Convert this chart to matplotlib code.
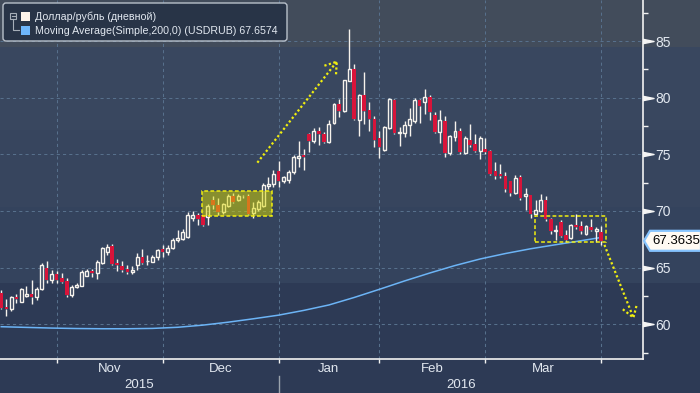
import numpy as np
import pandas as pd
import matplotlib
matplotlib.use("Agg")
import matplotlib.pyplot as plt
import matplotlib.transforms as mtransforms
from matplotlib.patches import Rectangle, FancyBboxPatch, Polygon

plt.rcParams['font.family'] = ['Liberation Sans', 'DejaVu Sans']

# ---- data (USD/RUB daily) ----
dates = pd.bdate_range("2015-10-16", "2016-04-01")
dates = dates[dates != pd.Timestamp("2016-01-01")]

opens = [62.8, 61.5, 61.3, 62.4, 62.0, 62.5, 62.7, 62.4, 63.1, 65.0,
         63.9, 64.4, 64.1, 63.8, 62.6, 63.3, 63.4, 64.3, 64.7, 64.5,
         65.4, 66.4, 66.9, 65.4, 65.1, 64.9, 64.6, 65.2, 65.9, 65.55,
         65.5, 65.9, 66.6, 66.4, 66.7, 67.4, 67.5, 67.7, 69.4, 69.6,
         69.6, 69.45, 71.0, 70.5, 69.9, 70.4, 71.3, 71.0, 71.36, 71.35,
         69.8, 70.2, 70.4, 72.2, 72.4, 73.5, 72.6, 72.7, 73.4, 74.7,
         74.9, 76.8, 76.2, 77.1, 76.8, 76.1, 77.8, 79.4, 78.8, 81.5,
         82.5, 78.0, 80.2, 78.9, 78.1, 76.4, 75.4, 77.3, 79.8, 76.9,
         76.9, 77.6, 77.9, 79.8, 79.6, 80.1, 78.5, 77.0, 77.9, 75.1,
         76.5, 77.1, 75.1, 76.3, 75.9, 75.3, 75.5, 75.3, 73.5, 73.3,
         73.1, 72.6, 71.6, 73.0, 71.3, 71.4, 69.7, 70.0, 71.0, 69.3,
         68.2, 69.0, 67.9, 67.6, 68.8, 68.7, 68.0, 68.6, 68.2, 68.1]
highs = [63.0, 62.2, 62.5, 62.7, 63.2, 63.4, 63.9, 63.3, 65.4, 65.6,
         64.8, 64.7, 64.5, 64.1, 63.5, 63.6, 64.8, 64.9, 64.9, 65.7,
         66.8, 67.1, 67.1, 65.8, 65.6, 65.2, 65.1, 66.3, 66.6, 66.1,
         66.1, 66.6, 67.0, 67.0, 67.6, 68.3, 68.4, 69.9, 70.0, 69.8,
         69.65, 70.6, 71.3, 71.1, 70.7, 71.5, 71.6, 71.5, 71.45, 71.5,
         70.8, 71.0, 72.5, 73.0, 73.6, 74.4, 73.1, 73.6, 74.9, 76.2,
         75.5, 76.85, 77.3, 77.4, 77.0, 78.0, 79.5, 79.9, 81.6, 86.1,
         83.0, 80.3, 82.3, 79.6, 78.4, 77.1, 77.5, 79.95, 79.9, 77.4,
         77.9, 79.1, 80.0, 79.9, 80.8, 80.2, 78.7, 78.9, 78.4, 76.7,
         77.9, 77.3, 76.6, 77.7, 76.8, 76.6, 76.4, 75.4, 74.3, 74.1,
         73.4, 72.65, 73.2, 73.2, 72.0, 71.45, 71.0, 71.5, 71.3, 69.4,
         68.8, 69.2, 68.3, 68.85, 69.7, 69.1, 68.8, 69.3, 68.6, 68.7]
lows = [61.3, 60.7, 61.2, 61.9, 61.95, 62.4, 61.8, 62.1, 63.05, 63.6,
        63.6, 63.6, 63.6, 62.4, 62.4, 63.2, 63.35, 64.25, 64.2, 64.0,
        65.35, 66.1, 65.2, 64.7, 64.6, 64.4, 64.4, 64.8, 65.3, 65.2,
        65.45, 65.7, 65.9, 66.1, 66.65, 67.3, 67.4, 67.65, 69.1, 68.8,
        68.7, 68.8, 70.2, 69.6, 69.7, 70.35, 70.7, 70.9, 71.1, 69.65,
        69.4, 70.0, 70.35, 71.9, 72.1, 72.1, 72.5, 72.5, 73.3, 73.9,
        73.6, 75.2, 76.0, 75.8, 76.0, 76.0, 77.7, 78.3, 78.7, 81.45,
        78.0, 76.6, 77.7, 77.1, 75.6, 74.7, 75.3, 77.2, 76.8, 75.7,
        76.5, 76.6, 77.8, 77.8, 78.6, 78.0, 76.9, 76.0, 74.8, 74.9,
        76.2, 75.0, 75.0, 75.6, 75.2, 74.6, 75.0, 73.2, 72.8, 72.9,
        71.7, 71.3, 71.5, 71.0, 70.1, 69.4, 69.6, 69.9, 69.1, 68.0,
        67.4, 67.7, 67.3, 67.5, 68.4, 68.0, 67.9, 68.2, 67.3, 67.0]
closes = [61.4, 61.3, 62.4, 62.2, 63.1, 62.7, 62.4, 63.1, 65.2, 63.9,
          64.4, 63.9, 63.7, 62.6, 63.3, 63.5, 64.6, 64.7, 64.5, 65.5,
          66.7, 66.8, 65.3, 65.2, 64.8, 64.6, 64.8, 65.9, 65.4, 65.62,
          65.9, 66.55, 66.4, 66.7, 67.4, 67.6, 68.1, 69.6, 69.6, 69.3,
          68.8, 70.4, 70.5, 69.9, 70.6, 71.3, 70.8, 71.3, 71.3, 69.7,
          70.3, 70.8, 72.3, 72.4, 73.3, 72.6, 73.0, 73.4, 74.8, 74.85,
          74.8, 76.2, 77.1, 76.8, 76.1, 77.7, 79.4, 78.8, 81.6, 82.5,
          78.1, 80.2, 78.8, 78.1, 76.3, 75.6, 77.4, 79.9, 76.9, 77.0,
          77.6, 78.1, 79.8, 79.3, 80.1, 78.7, 77.0, 78.0, 75.1, 76.6,
          77.1, 75.2, 76.4, 75.8, 75.3, 76.4, 75.2, 73.3, 73.1, 73.1,
          71.9, 71.6, 72.9, 71.1, 71.5, 69.7, 70.1, 71.0, 69.3, 68.2,
          68.3, 67.8, 67.4, 68.8, 68.6, 68.2, 68.7, 68.3, 68.4, 67.3635]

# 200-day simple moving average, read every 5th session
ma_idx = [0, 5, 10, 15, 20, 25, 30, 35, 40, 45, 50, 55, 60, 65, 70,
          75, 80, 85, 90, 95, 100, 105, 110, 115, 119]
ma_val = [59.78, 59.72, 59.66, 59.62, 59.60, 59.60, 59.63, 59.73, 59.92,
          60.18, 60.48, 60.80, 61.22, 61.70, 62.36, 63.08, 63.82, 64.52,
          65.18, 65.76, 66.24, 66.66, 67.02, 67.37, 67.66]

# annotations: (session index, price)
box1 = [(39.9, 69.53), (53.8, 71.73)]
box2 = [(105.8, 67.23), (119.9, 69.58)]
arrow1 = [(50.8, 74.26), (66.55, 83.17)]
arrow1_head = [(64.1, 82.82), (66.55, 83.17), (66.4, 82.0)]
arrow2 = [(119.65, 67.0), (125.4, 60.58)]
arrow2_head = [(123.3, 61.32), (125.4, 60.58), (126.1, 61.79)]

legend_labels = ["Доллар/рубль (дневной)",
                 "Moving Average(Simple,200,0) (USDRUB) 67.6574"]

# ---- style ----
UP = '#f6f2ec'
DOWN = '#d8143a'
GRID = '#57708c'
YEL = '#f0ee10'
TXT = '#e2e8f0'

W, H = 700, 393
fig = plt.figure(figsize=(7, 3.93), dpi=100)
fig.patch.set_facecolor('#2d3a55')

# background bands
bg = fig.add_axes([0, 0, 1, 1], zorder=0)
bg.set_xlim(0, W); bg.set_ylim(H, 0); bg.axis('off')
for y0, y1, c in [(0, 47, '#424c5b'), (47, 130, '#39475f'),
                  (130, 207, '#37455e'), (207, 283, '#34435d'),
                  (283, H, '#2d3a55')]:
    bg.add_patch(Rectangle((0, y0), W, y1 - y0, fc=c, ec='none'))

ax = fig.add_axes([0, (H - 359) / H, 643 / W, 359 / H], zorder=1)
ax.set_facecolor('none')
ax.set_xlim(-0.25, 127.3)
ax.set_ylim(56.93, 88.62)

x = np.arange(len(dates))
o = np.array(opens); h = np.array(highs); l = np.array(lows); c = np.array(closes)
up = c >= o
body_lo = np.minimum(o, c)
body_hi = np.maximum(o, c)
body_h = np.maximum(body_hi - body_lo, 0.06)

# grid
month_pos = [i for i in range(1, len(dates)) if dates[i].month != dates[i - 1].month]
for p in month_pos:
    ax.axvline(p, color=GRID, lw=0.75, ls=(0, (3, 3)), zorder=1)
for v in range(60, 90, 5):
    ax.axhline(v, color=GRID, lw=0.75, ls=(0, (3, 3)), zorder=1)

# moving average
ax.plot(ma_idx, ma_val, color='#6cb4f6', lw=1.1, zorder=2)

# wicks
ax.vlines(x, body_hi, h, color=UP, lw=1.0, zorder=3)
ax.vlines(x, l, body_lo, color=UP, lw=1.0, zorder=3)
# bodies
ax.bar(x[up], body_h[up], bottom=body_lo[up], width=0.58,
       facecolor='none', edgecolor=UP, lw=1.0, zorder=4)
ax.bar(x[~up], body_h[~up], bottom=body_lo[~up], width=0.7,
       facecolor=DOWN, edgecolor='none', zorder=4)

# highlighted consolidation boxes
(bx0, by0), (bx1, by1) = box1
ax.add_patch(Rectangle((bx0, by0), bx1 - bx0, by1 - by0, fc=(0.85, 0.85, 0.0, 0.5),
                       ec='none', zorder=5))
ax.add_patch(Rectangle((bx0, by0), bx1 - bx0, by1 - by0, fc='none', ec=YEL,
                       lw=1.1, ls=(0, (2.5, 1.5)), zorder=6))
(bx0, by0), (bx1, by1) = box2
ax.add_patch(Rectangle((bx0, by0), bx1 - bx0, by1 - by0, fc='none', ec=YEL,
                       lw=1.1, ls=(0, (2.5, 1.5)), zorder=6, clip_on=False))

# dotted arrows
for line in (arrow1, arrow1_head, arrow2, arrow2_head):
    xs, ys = zip(*line)
    ax.plot(xs, ys, color=YEL, lw=1.6, ls=(0, (1, 1.1)), zorder=6, clip_on=False)

# spines / ticks
for s in ('top', 'left'):
    ax.spines[s].set_visible(False)
for s in ('bottom', 'right'):
    ax.spines[s].set_color('#f2f2f2')
    ax.spines[s].set_linewidth(1.2)

ax.yaxis.tick_right()
ax.set_yticks(range(60, 90, 5))
ax.set_yticklabels([str(v) for v in range(60, 90, 5)], color=TXT, fontsize=10)
ax.set_yticks(np.arange(57.5, 90, 5), minor=True)
ax.tick_params(axis='y', which='major', length=0, pad=9)
ax.tick_params(axis='y', which='minor', length=3.5, width=1, color='#f2f2f2')

ax.set_xticks(month_pos)
ax.set_xticklabels([])
ax.tick_params(axis='x', which='major', length=3, width=1, color='#f2f2f2')

# tick triangles on the right axis
tri = [(-0.8, -0.32), (0.8, 0.0), (-0.8, 0.32)]
blend_y = mtransforms.blended_transform_factory(ax.transAxes, ax.transData)
ax.plot([1.0085] * 6, list(range(60, 90, 5)), ls='none', marker=tri, ms=8,
        color='#f4f4f4', transform=blend_y, clip_on=False, zorder=7)

# month and year labels
blend_x = mtransforms.blended_transform_factory(ax.transData, fig.transFigure)
for a, b in zip(month_pos[:-1], month_pos[1:]):
    ax.text((a + b) / 2, 1 - 369 / H, dates[a].strftime('%b'), transform=blend_x,
            ha='center', va='center', color=TXT, fontsize=9.5)
jan = month_pos[2]
x_lo, x_hi = ax.get_xlim()
ax.text((x_lo + jan) / 2, 1 - 385 / H, str(dates[0].year), transform=blend_x,
        ha='center', va='center', color=TXT, fontsize=9.5)
ax.text((jan + x_hi) / 2, 1 - 385 / H, str(dates[jan].year), transform=blend_x,
        ha='center', va='center', color=TXT, fontsize=9.5)
ax.plot([jan, jan], [1 - 376 / H, 0], transform=blend_x, color='#9aa3ad',
        lw=1, clip_on=False)

# overlay: legend and last price tag
ov = fig.add_axes([0, 0, 1, 1], zorder=3)
ov.set_xlim(0, W); ov.set_ylim(H, 0); ov.axis('off')

ov.add_patch(FancyBboxPatch((3, 3), 284, 38, boxstyle='round,pad=0,rounding_size=3',
                            fc='#283447', ec='#b9c1cb', lw=1))
ov.add_patch(Rectangle((10, 12.5), 6, 6, fc='none', ec='#a6aeb8', lw=0.8))
ov.plot([11.5, 14.5], [15.5, 15.5], color='#a6aeb8', lw=0.8)
ov.plot([13, 13, 19], [18.5, 30, 30], color='#a6aeb8', lw=0.8)
ov.add_patch(Rectangle((20.5, 11.7), 9, 9, fc='#fdf3ea', ec='none'))
ov.add_patch(Rectangle((20.5, 25.7), 9, 9, fc='#6db5fa', ec='none'))
ov.text(35, 16.5, legend_labels[0], color=TXT, fontsize=7.7, va='center')
ov.text(35, 30.5, legend_labels[1], color=TXT, fontsize=7.7, va='center')

disp = ax.transData.transform((0, closes[-1]))
ty = ov.transData.inverted().transform(disp)[1]
ov.add_patch(Polygon([(644, ty), (650, ty - 10), (701, ty - 10), (701, ty + 10),
                      (650, ty + 10)], closed=True, fc='#fffaf3', ec='#86c4ff', lw=1.6))
ov.text(652, ty, f"{closes[-1]:.4f}", color='black', fontsize=9.5, va='center')

fig.savefig('out.png', dpi=100, facecolor=fig.get_facecolor())
